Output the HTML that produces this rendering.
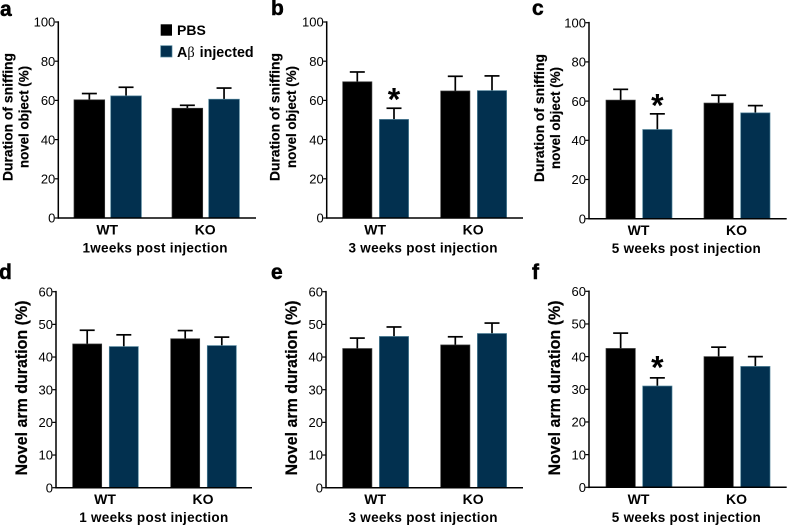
<!DOCTYPE html>
<html>
<head>
<meta charset="utf-8">
<style>
html,body{margin:0;padding:0;background:#fff;}
#fig{display:block;width:787px;height:526px;filter:blur(0.35px);font-family:"Liberation Sans",Arial,sans-serif;}
</style>
</head>
<body>
<svg id="fig" xmlns="http://www.w3.org/2000/svg" width="787" height="526" viewBox="0 0 787 526"></svg>
<script>
// Data: order is WT-PBS, WT-injected, KO-PBS, KO-injected
var groupLabels = ['WT', 'KO'];
var seriesNames = ['PBS', 'injected'];
var ticksTop = [0, 20, 40, 60, 80, 100];
var ticksBottom = [0, 10, 20, 30, 40, 50, 60];

var meansA = [60.3, 62.3, 56, 60.6];
var upperA = [63.5, 66.7, 57.5, 66.3];
var meansB = [69.5, 50.3, 64.8, 65];
var upperB = [74.5, 56, 72.3, 72.5];
var meansC = [60.5, 45.5, 59, 54];
var upperC = [66, 53.5, 63, 57.7];
var meansD = [44, 43.2, 45.6, 43.5];
var upperD = [48.2, 46.8, 48.1, 46.1];
var meansE = [42.6, 46.3, 43.7, 47.2];
var upperE = [45.8, 49.2, 46.2, 50.4];
var meansF = [42.5, 31, 40, 37];
var upperF = [47.2, 33.5, 42.9, 40];

var starsB = [1];
var starsC = [1];
var starsF = [1];
var noStars = [];

var NS = 'http://www.w3.org/2000/svg';
var svg = document.getElementById('fig');
var colors = ['#000000', '#02304f'];
var edges = ['#3a3a3a', '#4f8299'];

function make(tag, attrs, parent, txt) {
  var el = document.createElementNS(NS, tag);
  for (var k in attrs) el.setAttribute(k, attrs[k]);
  if (txt !== undefined) el.textContent = txt;
  (parent || svg).appendChild(el);
  return el;
}

function drawPanel(p) {
  var g = make('g', {}, svg);
  
  

  var yMax = p.ticks[p.ticks.length - 1];
  function yScale(v) { return p.y0 - (v / yMax) * (p.y0 - p.yTop); }
  function xScale(i) { return p.barStart + i * p.barStep + (i >= 2 ? p.groupGap : 0); }

  var letter = make('text', {x: p.letterX, y: p.letterY, 'font-size': 21, 'font-weight': 'bold', fill: '#000', stroke: '#000', 'stroke-width': 0.5}, g, p.letter);
  
  

  p.means.forEach(function (m, i) {
    var x = xScale(i);
    var cx = x + p.barW / 2;
    var s = i % 2;
    var stem = make('line', {x1: cx, x2: cx, y1: yScale(m), y2: yScale(p.upper[i]), stroke: '#000', 'stroke-width': 1.7}, g);
    
    
    var cap = make('line', {x1: cx - 7.5, x2: cx + 7.5, y1: yScale(p.upper[i]), y2: yScale(p.upper[i]), stroke: '#000', 'stroke-width': 1.7}, g);
    
    
    var bar = make('rect', {x: x, y: yScale(m), width: p.barW, height: p.y0 - yScale(m), fill: colors[s], stroke: edges[s], 'stroke-width': 0.7}, g);
    
    
  });

  p.stars.forEach(function (i) {
    var cx = xScale(i) + p.barW / 2;
    var star = make('text', {x: cx, y: yScale(p.upper[i]) + p.starDrop, 'text-anchor': 'middle', 'font-size': 32, 'font-weight': 'bold', fill: '#000'}, g, '*');
    
    
  });

  var yAxis = make('line', {x1: p.axisX, x2: p.axisX, y1: p.yTop - 0.8, y2: p.y0 + 0.8, stroke: '#000', 'stroke-width': 1.5}, g);
  
  
  var xAxis = make('line', {x1: p.axisX, x2: p.axisEnd, y1: p.y0, y2: p.y0, stroke: '#000', 'stroke-width': 1.5}, g);
  
  

  p.ticks.forEach(function (t) {
    var y = yScale(t);
    var tick = make('line', {x1: p.axisX - 3.5, x2: p.axisX, y1: y, y2: y, stroke: '#000', 'stroke-width': 1.2}, g);
    
    
    var lab = make('text', {x: p.axisX - 3, y: y + 4.7, 'text-anchor': 'end', 'font-size': 13, fill: '#000'}, g, String(t));
    
    
  });

  p.titleLines.forEach(function (line, i) {
    var tx = p.axisX + p.titleOffsets[i];
    var title = make('text', {x: tx, y: p.titleY, transform: 'rotate(-90 ' + tx + ' ' + p.titleY + ')', 'text-anchor': 'middle', 'font-size': p.titleSize, 'font-weight': 'bold', fill: '#000', stroke: '#000', 'stroke-width': 0.2, textLength: p.titleLens[i], lengthAdjust: 'spacingAndGlyphs'}, g, line);
    
    
  });

  groupLabels.forEach(function (name, i) {
    var cx = (xScale(i * 2) + xScale(i * 2 + 1) + p.barW) / 2 - 0.5;
    var lab = make('text', {x: cx, y: p.y0 + 16.5, 'text-anchor': 'middle', 'font-size': 14, 'font-weight': 'bold', fill: '#000'}, g, name);
    
    
  });

  var cap2 = make('text', {x: p.captionX, y: p.y0 + 34.5, 'text-anchor': 'middle', 'font-size': 13.5, 'font-weight': 'bold', fill: '#000', textLength: p.captionLen, lengthAdjust: 'spacing'}, g, p.caption);
  
  
}

var topTitle = ['Duration of sniffing', 'novel object (%)'];
var bottomTitle = ['Novel arm duration (%)'];

drawPanel({letter: 'a', letterX: 0, letterY: 16, means: meansA, upper: upperA, stars: noStars, starDrop: 0, ticks: ticksTop,
  axisX: 58.3, axisEnd: 256, y0: 218, yTop: 22, barStart: 74, barStep: 36.7, groupGap: 24.6, barW: 30.7,
  titleLines: topTitle, titleOffsets: [-46, -30], titleY: 117, titleSize: 14, titleLens: [128, 102],
  caption: '1weeks post injection', captionX: 155, captionLen: 145});
drawPanel({letter: 'b', letterX: 271, letterY: 15, means: meansB, upper: upperB, stars: starsB, starDrop: 2.5, ticks: ticksTop,
  axisX: 326.7, axisEnd: 523, y0: 218, yTop: 22, barStart: 342.7, barStep: 36.7, groupGap: 24.6, barW: 29.2,
  titleLines: topTitle, titleOffsets: [-47, -30.5], titleY: 117, titleSize: 14, titleLens: [128, 102],
  caption: '3 weeks post injection', captionX: 423, captionLen: 149});
drawPanel({letter: 'c', letterX: 532, letterY: 15, means: meansC, upper: upperC, stars: starsC, starDrop: 2.5, ticks: ticksTop,
  axisX: 589, axisEnd: 786.7, y0: 218.7, yTop: 22.7, barStart: 606, barStep: 36.7, groupGap: 24.6, barW: 29.3,
  titleLines: topTitle, titleOffsets: [-45, -29], titleY: 118, titleSize: 14, titleLens: [128, 102],
  caption: '5 weeks post injection', captionX: 686.3, captionLen: 149});
drawPanel({letter: 'd', letterX: -1, letterY: 279, means: meansD, upper: upperD, stars: noStars, starDrop: 0, ticks: ticksBottom,
  axisX: 56, axisEnd: 252, y0: 487.7, yTop: 291.7, barStart: 72.7, barStep: 36.6, groupGap: 24.8, barW: 29,
  titleLines: bottomTitle, titleOffsets: [-29], titleY: 388, titleSize: 16.5, titleLens: [175],
  caption: '1 weeks post injection', captionX: 153.7, captionLen: 149});
drawPanel({letter: 'e', letterX: 271, letterY: 279, means: meansE, upper: upperE, stars: noStars, starDrop: 0, ticks: ticksBottom,
  axisX: 326, axisEnd: 523, y0: 487.7, yTop: 291.7, barStart: 342.7, barStep: 36.7, groupGap: 24.6, barW: 29.2,
  titleLines: bottomTitle, titleOffsets: [-29], titleY: 388, titleSize: 16.5, titleLens: [175],
  caption: '3 weeks post injection', captionX: 423, captionLen: 149});
drawPanel({letter: 'f', letterX: 532, letterY: 279, means: meansF, upper: upperF, stars: starsF, starDrop: 0.5, ticks: ticksBottom,
  axisX: 589, axisEnd: 786.7, y0: 487.3, yTop: 291.3, barStart: 606, barStep: 36.7, groupGap: 24.6, barW: 29.3,
  titleLines: bottomTitle, titleOffsets: [-29], titleY: 388, titleSize: 16.5, titleLens: [175],
  caption: '5 weeks post injection', captionX: 686.3, captionLen: 149});

// Legend
var legend = make('g', {}, svg);



var sw1 = make('rect', {x: 160.7, y: 24.3, width: 11.3, height: 11.4, fill: colors[0]}, legend);


var lt1 = make('text', {x: 177, y: 35, 'font-size': 14, 'font-weight': 'bold', fill: '#000'}, legend, 'PBS');



var sw2 = make('rect', {x: 160.7, y: 45.7, width: 11.3, height: 11.3, fill: colors[1], stroke: edges[1], 'stroke-width': 0.7}, legend);


var lt2 = make('text', {x: 177, y: 57, 'font-size': 14.3, 'font-weight': 'bold', fill: '#000'}, legend);


make('tspan', {}, lt2, 'A');
make('tspan', {'font-family': '"Liberation Serif","DejaVu Serif",serif', 'font-weight': 'normal'}, lt2, '\u03B2');
make('tspan', {dx: 5}, lt2, 'injected');
</script>
</body>
</html>
